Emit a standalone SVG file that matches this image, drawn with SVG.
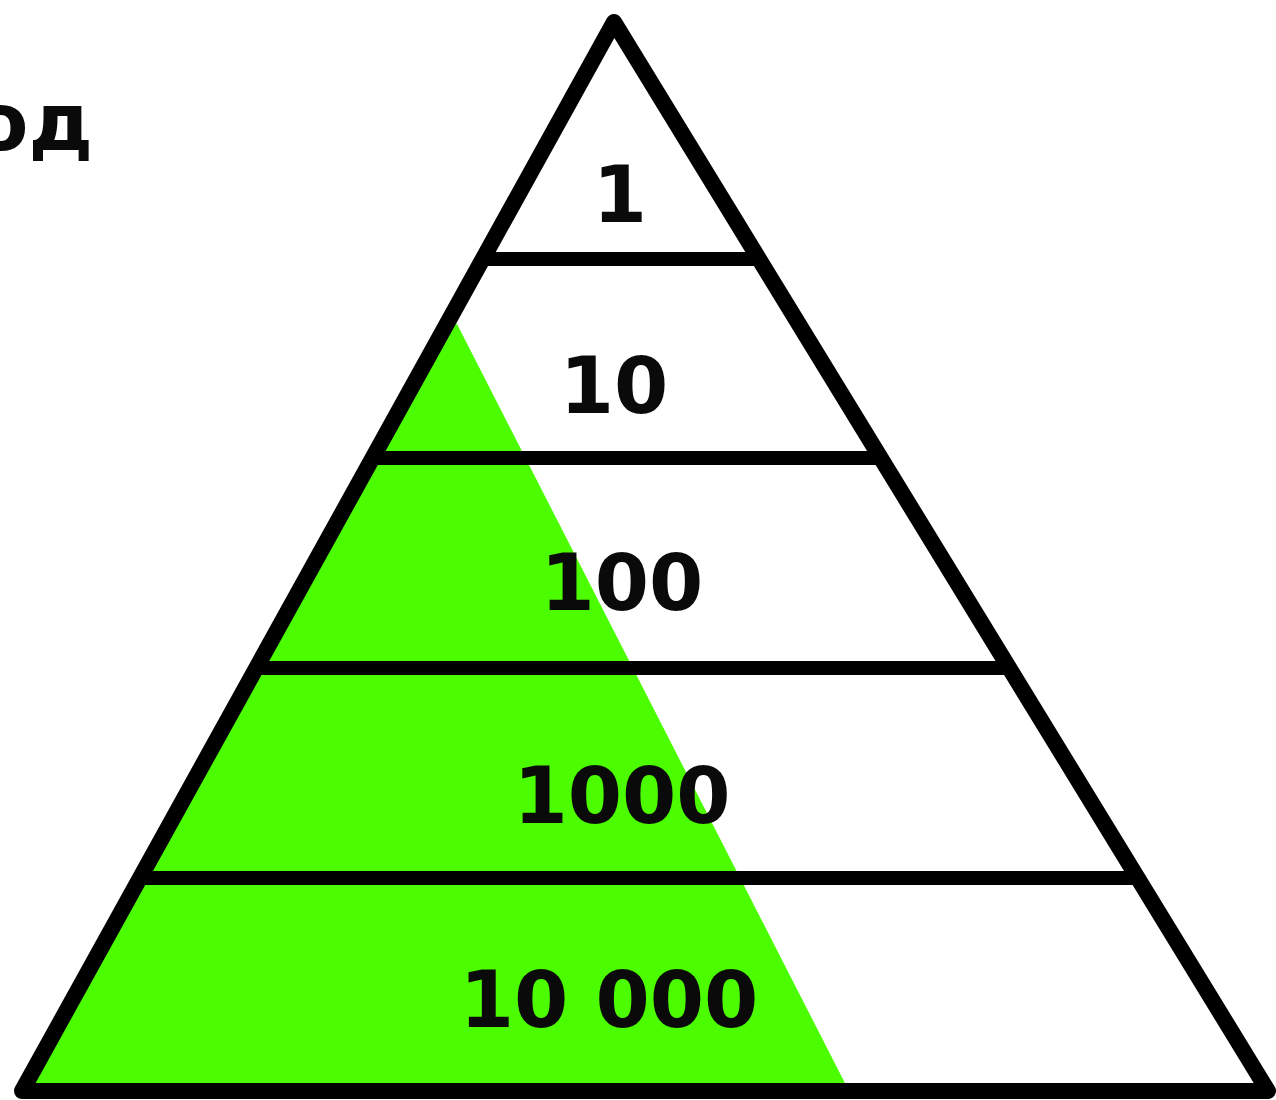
<svg xmlns="http://www.w3.org/2000/svg" width="1276" height="1100" viewBox="0 0 1276 1100">
  <style>
    .edge { fill: none; stroke: #000; stroke-width: 16; stroke-linejoin: round; stroke-linecap: butt; }
    .div { stroke: #000; stroke-width: 14; }
    .lbl { font-family: "DejaVu Sans", Verdana, sans-serif; font-weight: bold; font-size: 78px; fill: #0a0a0a; text-anchor: middle; }
    .cut { font-family: "DejaVu Sans", Verdana, sans-serif; font-weight: bold; font-size: 80px; fill: #0a0a0a; text-anchor: end; }
  </style>
  <rect width="1276" height="1100" fill="#fff"/>
  <text class="cut" x="93" y="150">од</text>
  <g id="green-area">
    <polygon points="449,324 457,324 849,1091 22,1091" fill="#4cfc00"/>
  </g>
  <g id="pyramid">
    <polygon class="edge" points="614,22 1268,1091 22,1091"/>
  </g>
  <g id="connectors">
    <line class="div" x1="482" y1="259" x2="760" y2="259"/>
    <line class="div" x1="372" y1="458" x2="882" y2="458"/>
    <line class="div" x1="256" y1="668" x2="1010" y2="668"/>
    <line class="div" x1="139" y1="878" x2="1138" y2="878"/>
  </g>
  <g id="level1"><text class="lbl" x="620" y="222">1</text></g>
  <g id="level2"><text class="lbl" x="614" y="413">10</text></g>
  <g id="level3"><text class="lbl" x="622" y="610">100</text></g>
  <g id="level4"><text class="lbl" x="622" y="823">1000</text></g>
  <g id="level5"><text class="lbl" x="609" y="1027">10 000</text></g>
</svg>
